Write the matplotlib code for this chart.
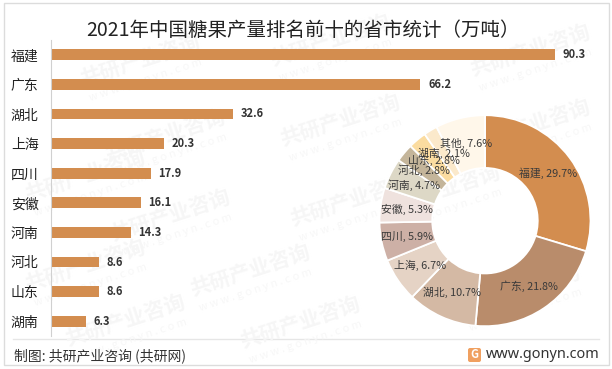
import matplotlib
matplotlib.use("Agg")
import matplotlib.pyplot as plt
import numpy as np
from matplotlib.patches import FancyBboxPatch, Rectangle

plt.rcParams["font.family"] = ["Noto Sans CJK SC", "DejaVu Sans"]

W, H = 612, 369

provinces = ["福建", "广东", "湖北", "上海", "四川", "安徽", "河南", "河北", "山东", "湖南"]
output = [90.3, 66.2, 32.6, 20.3, 17.9, 16.1, 14.3, 8.6, 8.6, 6.3]

share_names = ["福建", "广东", "湖北", "上海", "四川", "安徽", "河南", "河北", "山东", "湖南", "其他"]
share_values = [29.7, 21.8, 10.7, 6.7, 5.9, 5.3, 4.7, 2.8, 2.8, 2.1, 7.6]
share_colors = ["#D38D4F", "#B98C6B", "#D4B9A4", "#E5D3C5", "#CDB0A6", "#EFE2DE",
                "#DDD8C6", "#C4B59A", "#FBDCA0", "#FBE9CB", "#FFF7EA"]


def axes_px(fig, left, top, right, bottom, **kwargs):
    # 按像素坐标放置坐标轴（原点在左上角）
    return fig.add_axes([left / W, 1 - bottom / H, (right - left) / W, (bottom - top) / H], **kwargs)


fig = plt.figure(figsize=(W / 100, H / 100), dpi=100, facecolor="white")

# 背景层：边框、水印、页脚
bg = axes_px(fig, 0, 0, W, H)
bg.set_xlim(0, W)
bg.set_ylim(H, 0)
bg.axis("off")
bg.add_patch(Rectangle((4, 3), 605, 362, fill=False, edgecolor="#DCDCDC", linewidth=1))

marks = [(140, 60), (330, 40), (530, 50), (165, 135), (340, 120), (530, 125), (85, 175),
         (170, 215), (350, 200), (85, 265), (250, 270), (440, 190), (125, 320), (300, 322), (520, 290)]
for mx, my in marks:
    bg.text(mx, my, "共研产业咨询", fontsize=15, fontweight="bold", color="#F6F6F6",
            rotation=18, ha="center", va="center")
    bg.text(mx + 6, my + 20, "w w w . g o n y n . c o m", fontsize=8, color="#F7F7F7",
            rotation=18, ha="center", va="center")

bg.plot([13, 599], [339, 339], color="#E6E6E6", linewidth=1)
bg.text(303, 30, "2021年中国糖果产量排名前十的省市统计（万吨）", fontsize=14,
        color="#222222", ha="center", va="center")
bg.text(14, 356, "制图: 共研产业咨询 (共研网)", fontsize=10, color="#333333", ha="left", va="center")
bg.text(600, 355, "www.gonyn.com", fontsize=10.4, color="#333333", family="Noto Sans",
        ha="right", va="center")
bg.add_patch(FancyBboxPatch((469, 349), 11, 12, boxstyle="round,pad=1,rounding_size=2",
                            facecolor="#F0A060", edgecolor="none"))
bg.text(474.5, 355, "G", fontsize=8, fontweight="bold", color="white", ha="center", va="center")

# 条形图
ax = axes_px(fig, 51, 40, 609, 336)
ax.patch.set_alpha(0)
ax.barh(provinces, output, height=0.36, color="#D38D4F")
ax.set_xlim(0, 100)
ax.set_ylim(9.5, -0.5)
ax.xaxis.set_visible(False)
for side in ["top", "right", "bottom"]:
    ax.spines[side].set_visible(False)
ax.spines["left"].set_color("#D0D0D0")
ax.tick_params(axis="y", length=0, pad=9, labelsize=10, labelcolor="#222222")
for i, v in enumerate(output):
    ax.annotate(f"{v}", (v, i), xytext=(5.5, 0), textcoords="offset points",
                fontsize=8, fontweight="bold", color="#333333", va="center")

# 环形图
cx, cy, r = 485, 220.7, 105.5
pie_ax = axes_px(fig, cx - r, cy - r, cx + r, cy + r)
pie_ax.patch.set_alpha(0)
wedges, _ = pie_ax.pie(share_values, colors=share_colors, startangle=90, counterclock=False, radius=1,
                       wedgeprops={"width": 0.5, "edgecolor": "white", "linewidth": 1.3})
pie_ax.set_xlim(-1, 1)
pie_ax.set_ylim(-1, 1)

for wedge, name, value in zip(wedges, share_names, share_values):
    theta = np.deg2rad((wedge.theta1 + wedge.theta2) / 2)
    pie_ax.text(0.75 * np.cos(theta), 0.75 * np.sin(theta), f"{name}, {value}%", fontsize=7.8,
                color="#3A3A3A", ha="center", va="center", clip_on=False)

fig.savefig("out.png", dpi=100)
